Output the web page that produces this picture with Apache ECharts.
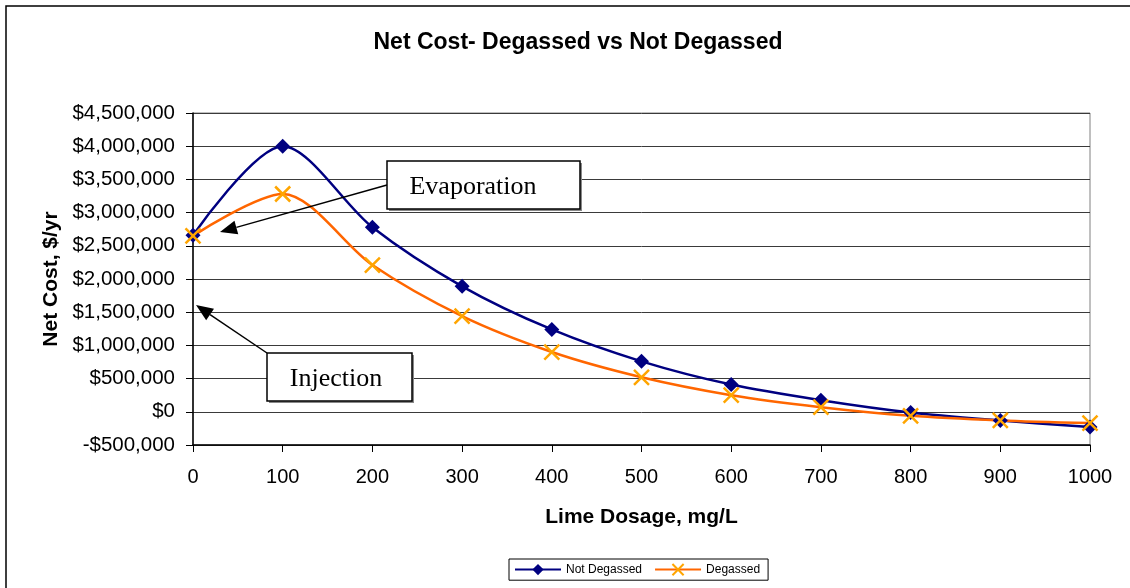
<!DOCTYPE html>
<html>
<head>
<meta charset="utf-8">
<script src="https://cdn.jsdelivr.net/npm/echarts@6/dist/echarts.min.js"></script>
<style>
  html, body { margin: 0; padding: 0; background: #fff; }
  #chart { width: 1130px; height: 588px; }
</style>
</head>
<body>
<div id="chart"></div>
<script>
// ---- Data ----
const limeDosage = [0, 100, 200, 300, 400, 500, 600, 700, 800, 900, 1000];
const notDegassed = [2660000, 4000000, 2780000, 1890000, 1240000, 760000, 410000, 175000, -10000, -130000, -230000];
const degassed = [2650000, 3280000, 2210000, 1440000, 900000, 520000, 250000, 70000, -60000, -130000, -170000];
const seriesNames = ['Not Degassed', 'Degassed'];
const titleText = 'Net Cost- Degassed vs Not Degassed';
const xAxisName = 'Lime Dosage, mg/L';
const yAxisName = 'Net Cost, $/yr';
const annotations = ['Evaporation', 'Injection'];

function fmtMoney(v) {
  const s = Math.abs(v).toString().replace(/\B(?=(\d{3})+(?!\d))/g, ',');
  return (v < 0 ? '-$' : '$') + s;
}

function arrow(x1, y1, x2, y2) {
  const dx = x2 - x1, dy = y2 - y1;
  const len = Math.sqrt(dx * dx + dy * dy);
  const ux = dx / len, uy = dy / len;
  const hl = 17, hw = 7;
  const bx = x2 - hl * ux, by = y2 - hl * uy;
  const nx = -uy, ny = ux;
  return [
    { type: 'line', z: 100, shape: { x1: x1, y1: y1, x2: bx, y2: by }, style: { stroke: '#000', lineWidth: 1.5 } },
    { type: 'polygon', z: 100, shape: { points: [[x2, y2], [bx + hw * nx, by + hw * ny], [bx - hw * nx, by - hw * ny]] }, style: { fill: '#000' } }
  ];
}

function box(x, y, w, h, text, tx) {
  return [
    { type: 'rect', z: 100, shape: { x: x + 2, y: y + 2, width: w, height: h }, style: { fill: '#888' } },
    { type: 'rect', z: 101, shape: { x: x, y: y, width: w, height: h }, style: { fill: '#fff', stroke: '#000', lineWidth: 1.5 } },
    { type: 'text', z: 102, x: tx, y: y + h / 2 + 2, style: { text: text, fill: '#000', font: '26px "Liberation Serif", "Times New Roman", serif', align: 'center', verticalAlign: 'middle' } }
  ];
}

const chart = echarts.init(document.getElementById('chart'), null, { renderer: 'canvas' });

const xMarker = 'path://M0,0 L10,10 M10,0 L0,10';

const option = {
  backgroundColor: '#fff',
  animation: false,
  title: {
    text: titleText,
    left: 573, top: 26, textAlign: 'center',
    textStyle: { fontFamily: '"Liberation Sans", Arial, sans-serif', fontSize: 23, fontWeight: 'bold', color: '#000' }
  },
  legend: {
    data: seriesNames,
    left: 509, top: 559,
    padding: [4, 8, 4, 5],
    itemGap: 12,
    itemWidth: 46, itemHeight: 14,
    borderColor: '#000', borderWidth: 1,
    textStyle: { fontFamily: '"Liberation Sans", Arial, sans-serif', fontSize: 12, color: '#000' }
  },
  grid: {
    left: 193, right: 40, top: 113, bottom: 143,
    show: true, borderColor: '#808080', borderWidth: 1, backgroundColor: 'transparent'
  },
  xAxis: {
    type: 'value', min: 0, max: 1000, interval: 100,
    name: xAxisName, nameLocation: 'middle', nameGap: 62,
    nameTextStyle: { fontFamily: '"Liberation Sans", Arial, sans-serif', fontSize: 21, fontWeight: 'bold', color: '#000' },
    axisLine: { onZero: false, lineStyle: { color: '#000', width: 1.5 } },
    axisTick: { show: true, length: 7, lineStyle: { color: '#000' } },
    axisLabel: { margin: 22, formatter: v => String(v), fontFamily: '"Liberation Sans", Arial, sans-serif', fontSize: 20, color: '#000' },
    splitLine: { show: false }
  },
  yAxis: {
    type: 'value', min: -500000, max: 4500000, interval: 500000,
    name: yAxisName, nameLocation: 'middle', nameGap: 131, nameRotate: 90,
    nameTextStyle: { fontFamily: '"Liberation Sans", Arial, sans-serif', fontSize: 21, fontWeight: 'bold', color: '#000' },
    axisLine: { show: true, lineStyle: { color: '#000', width: 1.5 } },
    axisTick: { show: true, length: 7, lineStyle: { color: '#000' } },
    axisLabel: { margin: 18, formatter: fmtMoney, fontFamily: '"Liberation Sans", Arial, sans-serif', fontSize: 20.5, color: '#000' },
    splitLine: { show: true, lineStyle: { color: '#3a3a3a', width: 1 } }
  },
  series: [
    {
      name: seriesNames[0], type: 'line', smooth: 0.3,
      data: limeDosage.map((x, i) => [x, notDegassed[i]]),
      symbol: 'diamond', symbolSize: 15,
      lineStyle: { color: '#000080', width: 2.5 },
      itemStyle: { color: '#000080' }
    },
    {
      name: seriesNames[1], type: 'line', smooth: 0.3,
      data: limeDosage.map((x, i) => [x, degassed[i]]),
      symbol: xMarker, symbolSize: 15,
      lineStyle: { color: '#FF6600', width: 2.5 },
      itemStyle: { color: 'rgba(0,0,0,0)', borderColor: '#FFA500', borderWidth: 2.5 }
    }
  ],
  graphic: [
    { type: 'rect', z: 0, silent: true, shape: { x: 6, y: 6, width: 1300, height: 1000 }, style: { fill: 'none', stroke: '#000', lineWidth: 1.5 } }
  ]
    .concat(arrow(387, 185, 220, 232))
    .concat(box(387, 161, 193, 48, annotations[0], 473))
    .concat(arrow(267, 353, 196, 305))
    .concat(box(267, 353, 145, 48, annotations[1], 336))
};

chart.setOption(option);
</script>
</body>
</html>
